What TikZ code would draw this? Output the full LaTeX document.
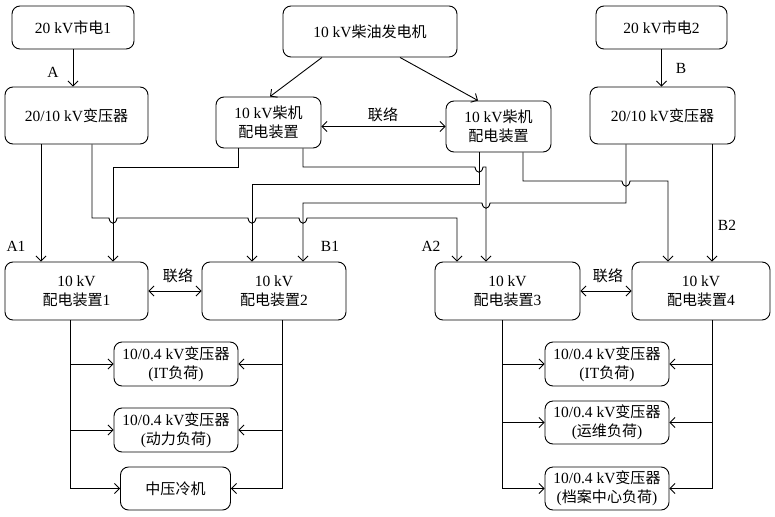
\documentclass[tikz,border=0pt]{standalone}
\usepackage{fontspec}
\setmainfont{Liberation Serif}
\newfontfamily\zhfont{Noto Sans CJK SC}[Scale=0.97]
\newcommand\zhx[1]{{\zhfont #1}}
\usetikzlibrary{arrows.meta}
\tikzset{
  box/.style={draw, line width=0.9pt, rounded corners=8pt, inner sep=0pt, align=center,
    font=\fontsize{15.5}{19}\selectfont},
  ln/.style={line width=0.9pt},
  arr/.style={ln, -{Straight Barb[length=5pt,width=10pt]}},
  darr/.style={ln, {Straight Barb[length=5pt,width=10pt]}-{Straight Barb[length=5pt,width=10pt]}},
  rarr/.style={ln, {Straight Barb[length=5pt,width=10pt]}-},
  lbl/.style={font=\fontsize{15.5}{18}\selectfont, inner sep=0pt},
  hop/.style args={#1/#2}{insert path={-- ({#1-4},#2) .. controls ({#1-3},{#2+7}) and ({#1+3},{#2+7}) .. ({#1+4},#2)}}
}
\begin{document}
\begin{tikzpicture}[x=1pt,y=-1pt]
\useasboundingbox (0,0) rectangle (775,516);
% guide coordinates
\foreach \x in {41,70,92,113,238,252,270,282,303,322,400,457,478,479,486,502,523,626,668,712}
  \coordinate (x\x) at (\x,0);
% top row
\node[box, minimum width=122pt, minimum height=43pt] (s1) at (73,27.5) {20 kV\zhx{市电}1};
\node[box, minimum width=174pt, minimum height=51pt] (gen) at (370,31.5) {10 kV\zhx{柴油发电机}};
\node[box, minimum width=131pt, minimum height=43pt] (s2) at (661.5,27.5) {20 kV\zhx{市电}2};
% transformers and diesel switchgear
\node[box, minimum width=143pt, minimum height=57pt] (t1) at (76.5,115.5) {20/10 kV\zhx{变压器}};
\node[box, minimum width=145pt, minimum height=57pt] (t2) at (662.5,115.5) {20/10 kV\zhx{变压器}};
\node[box, minimum width=105pt, minimum height=51pt] (c1) at (268.5,122.5) {10 kV\zhx{柴机}\\\zhx{配电装置}};
\node[box, minimum width=105pt, minimum height=51pt] (c2) at (498.5,126.5) {10 kV\zhx{柴机}\\\zhx{配电装置}};
% 10 kV switchgear
\node[box, minimum width=143pt, minimum height=58pt] (d1) at (76.5,291) {10 kV\\\zhx{配电装置}1};
\node[box, minimum width=144pt, minimum height=58pt] (d2) at (274,291) {10 kV\\\zhx{配电装置}2};
\node[box, minimum width=145pt, minimum height=58pt] (d3) at (507.5,291) {10 kV\\\zhx{配电装置}3};
\node[box, minimum width=138pt, minimum height=58pt] (d4) at (701,291) {10 kV\\\zhx{配电装置}4};
% loads
\node[box, minimum width=124pt, minimum height=44pt] (L1) at (176,364) {10/0.4 kV\zhx{变压器}\\(IT\zhx{负荷})};
\node[box, minimum width=124pt, minimum height=44pt] (L2) at (176,430) {10/0.4 kV\zhx{变压器}\\(\zhx{动力负荷})};
\node[box, minimum width=110pt, minimum height=43pt] (L3) at (175.5,488.5) {\zhx{中压冷机}};
\node[box, minimum width=124pt, minimum height=44pt] (R1) at (607,364) {10/0.4 kV\zhx{变压器}\\(IT\zhx{负荷})};
\node[box, minimum width=124pt, minimum height=43pt] (R2) at (607,422.5) {10/0.4 kV\zhx{变压器}\\(\zhx{运维负荷})};
\node[box, minimum width=124pt, minimum height=43pt] (R3) at (607,488.5) {10/0.4 kV\zhx{变压器}\\(\zhx{档案中心负荷})};
% top connectors
\draw[arr] (s1.south) -- (s1.south |- t1.north);
\draw[arr] (s2.south) -- (s2.south |- t2.north);
\draw[arr] (gen.south -| x322) -- (c1.north -| x270);
\draw[arr] (gen.south -| x400) -- (c2.north -| x478);
\draw[darr] (c1.east |- c2.west) -- (c2.west);
\node[lbl] (lA) at (53,72) {A};
\node[lbl] (lB) at (681,68) {B};
\node[lbl] (lk0) at (383,115) {\zhx{联络}};
% middle network
\draw[arr] (t1.south -| x41) -- (d1.north -| x41);
\draw[arr] (t1.south -| x92) -- (92,218) [hop=113/218] [hop=252/218] [hop=303/218] -- (457,218) -- (d3.north -| x457);
\draw[arr] (c1.south -| x238) -- (238,167) -- (113,167) -- (d1.north -| x113);
\draw[arr] (c1.south -| x303) -- (303,167) [hop=479/167] -- (486,167) -- (d3.north -| x486);
\draw[arr] (c2.south -| x479) -- (479,184) -- (252,184) -- (d2.north -| x252);
\draw[arr] (c2.south -| x523) -- (523,181) [hop=626/181] -- (668,181) -- (d4.north -| x668);
\draw[rarr] (d2.north -| x303) -- (303,203) [hop=486/203] -- (626,203) -- (t2.south -| x626);
\draw[arr] (t2.south -| x712) -- (d4.north -| x712);
\node[lbl] (lA1) at (16,246) {A1};
\node[lbl] (lB1) at (330,246) {B1};
\node[lbl] (lA2) at (431,246) {A2};
\node[lbl] (lB2) at (727,225) {B2};
% ties
\draw[darr] (d1.east) -- (d2.west);
\draw[darr] (d3.east) -- (d4.west);
\node[lbl] (lk1) at (178,276) {\zhx{联络}};
\node[lbl] (lk2) at (608,276) {\zhx{联络}};
% lower buses
\draw[ln] (d1.south -| x70) -- (L3.west -| x70);
\draw[arr] (L1.west -| x70) -- (L1.west);
\draw[arr] (L2.west -| x70) -- (L2.west);
\draw[arr] (L3.west -| x70) -- (L3.west);
\draw[ln] (d2.south -| x282) -- (L3.east -| x282);
\draw[arr] (L1.east -| x282) -- (L1.east);
\draw[arr] (L2.east -| x282) -- (L2.east);
\draw[arr] (L3.east -| x282) -- (L3.east);
\draw[ln] (d3.south -| x502) -- (R3.west -| x502);
\draw[arr] (R1.west -| x502) -- (R1.west);
\draw[arr] (R2.west -| x502) -- (R2.west);
\draw[arr] (R3.west -| x502) -- (R3.west);
\draw[ln] (d4.south -| x712) -- (R3.east -| x712);
\draw[arr] (R1.east -| x712) -- (R1.east);
\draw[arr] (R2.east -| x712) -- (R2.east);
\draw[arr] (R3.east -| x712) -- (R3.east);
\end{tikzpicture}
\end{document}
